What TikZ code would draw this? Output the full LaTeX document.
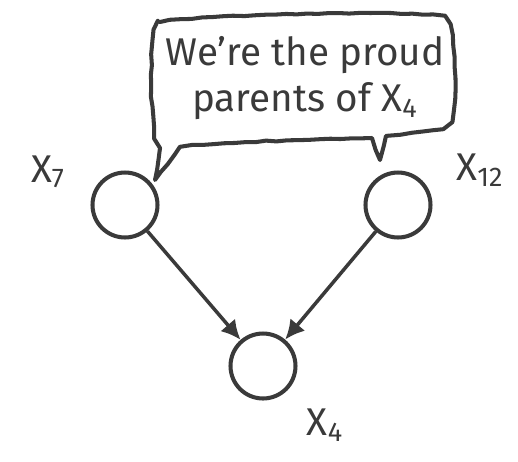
\documentclass[tikz,border=0pt]{standalone}
\usepackage{fontspec}
\setmainfont{Fira Sans}
\usetikzlibrary{arrows.meta,decorations.pathmorphing,positioning}
\definecolor{pencil}{HTML}{3A3A3A}

\tikzset{
  sketch/.style={draw=pencil,line width=2.3pt,line cap=round,line join=round,
    decorate,decoration={random steps,segment length=6pt,amplitude=.4pt}},
  var/.style={circle,draw=pencil,line width=2.3pt,minimum size=1.3cm,inner sep=0pt},
  lbl/.style={text=pencil,font=\fontsize{22}{26}\selectfont},
  edge/.style={draw=pencil,line width=2pt,-{Latex[length=11pt,width=11pt]}}
}

\begin{document}
\begin{tikzpicture}[x=0.02cm,y=-0.02cm]
\useasboundingbox (0,0) rectangle (518,461);
% speech bubble
\draw[sketch] (160,22) .. controls (200,14) and (400,10) .. (445,16)
  .. controls (456,30) and (458,90) .. (452,122)
  .. controls (440,132) and (410,133) .. (386,136)
  -- (380,160) -- (372,138)
  .. controls (300,140) and (220,142) .. (180,147)
  -- (155,180) -- (160,148)
  .. controls (150,130) and (150,60) .. (153,40)
  .. controls (154,30) and (156,25) .. (160,22) -- cycle;
\node[lbl,align=center] (says) at (305,78) {We're the proud\\parents of X\textsubscript{4}};
% the three variables
\node[var] (x7) at (125,205) {};
\node[var] (x12) at (398,205) {};
\node[var] (x4) at (263,366) {};
\node[lbl] (l7) at (48,172) {X\textsubscript{7}};
\node[lbl] (l12) at (480,170) {X\textsubscript{12}};
\node[lbl] (l4) at (325,425) {X\textsubscript{4}};
\draw[edge] (x7) -- (x4);
\draw[edge] (x12) -- (x4);
\end{tikzpicture}
\end{document}
